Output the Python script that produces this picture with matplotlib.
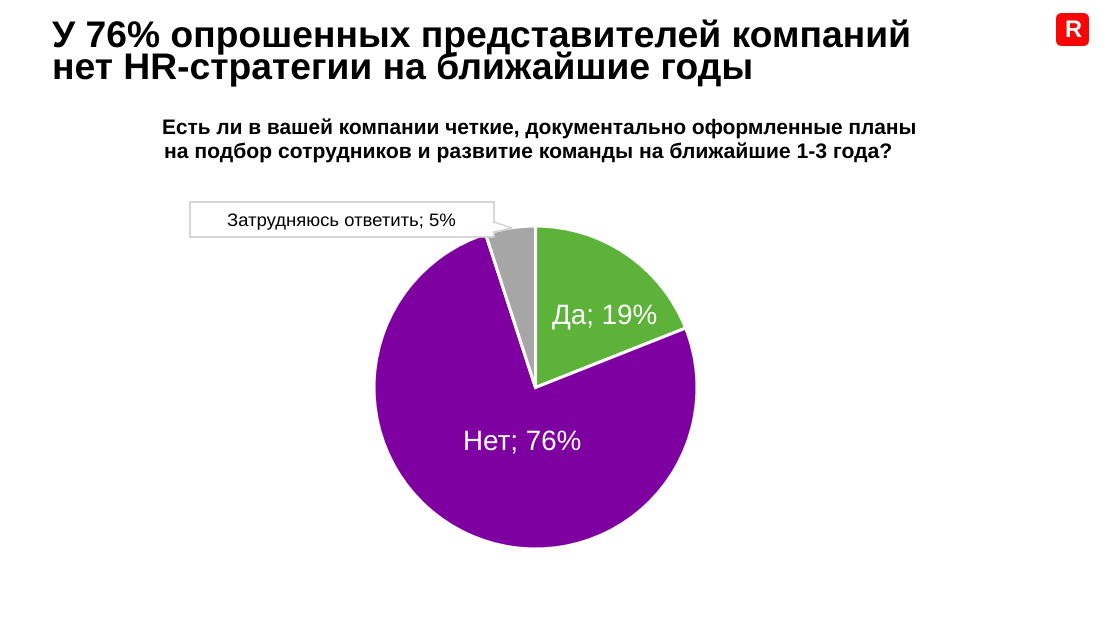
import matplotlib
matplotlib.use('Agg')
import matplotlib.pyplot as plt
from matplotlib.patches import FancyBboxPatch, Rectangle, Polygon

labels = ['Да', 'Нет', 'Затрудняюсь ответить']
values = [19, 76, 5]
colors = ['#5DB33A', '#7F00A0', '#A6A6A6']

title = 'У 76% опрошенных представителей компаний\nнет HR-стратегии на ближайшие годы'
question = ['Есть ли в вашей компании четкие, документально оформленные планы',
            'на подбор сотрудников и развитие команды на ближайшие 1-3 года?']

plt.rcParams['font.family'] = ['Liberation Sans', 'DejaVu Sans']
plt.rcParams['text.hinting'] = 'none'

W, H = 1109, 617
fig = plt.figure(figsize=(W / 100, H / 100), dpi=100)

# pie in pixel-sized axes
cx, cy, r = 535.5, 387.5, 161.5
ax = fig.add_axes([(cx - r) / W, 1 - (cy + r) / H, 2 * r / W, 2 * r / H], facecolor='none')
ax.pie(values, colors=colors, startangle=90, counterclock=False, radius=1,
       wedgeprops={'edgecolor': 'white', 'linewidth': 2.2})
ax.set_xlim(-1, 1)
ax.set_ylim(-1, 1)

# callout and logo sit on top of the pie
top = fig.add_axes([0, 0, 1, 1], facecolor='none', zorder=2)
top.set_xlim(0, W)
top.set_ylim(H, 0)
top.axis('off')
top.add_patch(Rectangle((190, 202), 304, 35, fc='white', ec='#CFCFCF', lw=1.2))
top.add_patch(Polygon([(494, 222), (512, 228), (494, 232)], closed=True, fc='white', ec='#CFCFCF', lw=1.0))
top.add_patch(Rectangle((492, 223), 3, 8, fc='white', ec='none', zorder=3))
top.text(341.5, 222, f'{labels[2]}; {values[2]}%', fontsize=13.3, va='center', ha='center', color='black')

top.add_patch(FancyBboxPatch((1056, 13), 33, 33, boxstyle='round,pad=0,rounding_size=6', fc='#FA0505', ec='none'))
top.text(1073, 31, 'R', fontsize=17, fontweight='bold', color='white', va='center', ha='center')

fig.text(52 / W, 1 - 53.5 / H, title, fontsize=26.8, fontweight='bold', va='center', ha='left', linespacing=0.89)
fig.text(539 / W, 1 - 128 / H, question[0], fontsize=15.05, fontweight='bold', va='center', ha='center')
fig.text(528 / W, 1 - 152 / H, question[1], fontsize=15.2, fontweight='bold', va='center', ha='center')

fig.text(605 / W, 1 - 317 / H, f'{labels[0]}; {values[0]}%', fontsize=20, color='white', va='center', ha='center')
fig.text(522 / W, 1 - 443 / H, f'{labels[1]}; {values[1]}%', fontsize=20, color='white', va='center', ha='center')

fig.savefig('out.png', dpi=100)
